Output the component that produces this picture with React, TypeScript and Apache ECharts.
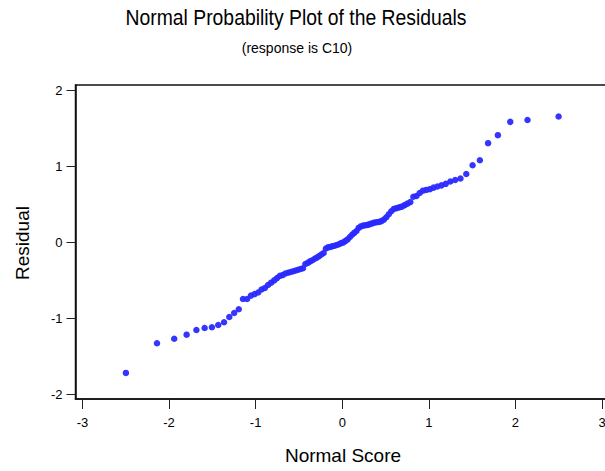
import React, { useEffect, useRef } from "react";
import * as echarts from "echarts";

const titleText = "Normal Probability Plot of the Residuals";
const subtitleText = "(response is C10)";
const xName = "Normal Score";
const yName = "Residual";

const xTicks = [-3, -2, -1, 0, 1, 2, 3];
const yTicks = [-2, -1, 0, 1, 2];

const normalScores = [
  -2.498, -2.139, -1.94, -1.797, -1.684, -1.589, -1.505, -1.432, -1.365, -1.304,
  -1.248, -1.195, -1.146, -1.099, -1.054, -1.012, -0.971, -0.932, -0.894, -0.857,
  -0.821, -0.786, -0.753, -0.72, -0.688, -0.657, -0.626, -0.596, -0.566, -0.537,
  -0.509, -0.481, -0.453, -0.426, -0.398, -0.372, -0.345, -0.319, -0.293, -0.267,
  -0.241, -0.215, -0.189, -0.164, -0.138, -0.113, -0.088, -0.063, -0.038, -0.013,
  0.013, 0.038, 0.063, 0.088, 0.113, 0.138, 0.164, 0.189, 0.215, 0.241,
  0.267, 0.293, 0.319, 0.345, 0.372, 0.398, 0.426, 0.453, 0.481, 0.509,
  0.537, 0.566, 0.596, 0.626, 0.657, 0.688, 0.72, 0.753, 0.786, 0.821,
  0.857, 0.894, 0.932, 0.971, 1.012, 1.054, 1.099, 1.146, 1.195, 1.248,
  1.304, 1.365, 1.432, 1.505, 1.589, 1.684, 1.797, 1.94, 2.139, 2.498,
];

const residuals = [
  -1.717, -1.327, -1.267, -1.214, -1.152, -1.126, -1.117, -1.087, -1.051, -0.982,
  -0.929, -0.88, -0.745, -0.745, -0.7, -0.68, -0.66, -0.62, -0.6, -0.56,
  -0.53, -0.5, -0.47, -0.44, -0.43, -0.41, -0.4, -0.39, -0.38, -0.37,
  -0.36, -0.35, -0.34, -0.285, -0.27, -0.25, -0.235, -0.215, -0.2, -0.18,
  -0.16, -0.14, -0.08, -0.065, -0.06, -0.05, -0.045, -0.035, -0.025, -0.01,
  0.0, 0.02, 0.04, 0.07, 0.1, 0.125, 0.15, 0.19, 0.21, 0.22,
  0.225, 0.23, 0.24, 0.25, 0.26, 0.265, 0.27, 0.28, 0.3, 0.33,
  0.37, 0.41, 0.44, 0.45, 0.46, 0.47, 0.49, 0.51, 0.53, 0.6,
  0.61, 0.65, 0.68, 0.69, 0.7, 0.72, 0.735, 0.75, 0.77, 0.8,
  0.82, 0.84, 0.9, 1.015, 1.08, 1.305, 1.41, 1.585, 1.61, 1.656,
];

const FONT = "'Liberation Sans', Arial, Helvetica, sans-serif";

export default function App() {
  const ref = useRef<HTMLDivElement>(null);

  useEffect(() => {
    if (!ref.current) return;
    const chart = echarts.init(ref.current, null, { renderer: "svg" });
    const points = normalScores.map((x, i) => [x, residuals[i]]);
    chart.setOption({
      animation: false,
      backgroundColor: "#ffffff",
      grid: {
        left: 75.5,
        right: 6,
        top: 85,
        bottom: 72,
        show: true,
        borderColor: "#111111",
        borderWidth: 1.5,
        backgroundColor: "transparent",
      },
      xAxis: {
        type: "value",
        min: -3.08,
        max: 3.08,
        axisLine: { show: true, onZero: false, lineStyle: { color: "#111111", width: 1.5 } },
        splitLine: { show: false },
        axisTick: {
          show: true,
          length: 10,
          customValues: xTicks,
          lineStyle: { color: "#222222", width: 1 },
        },
        axisLabel: {
          customValues: xTicks,
          margin: 17,
          color: "#000000",
          fontSize: 13,
          fontFamily: FONT,
        },
      },
      yAxis: {
        type: "value",
        min: -2.06,
        max: 2.07,
        axisLine: { show: true, onZero: false, lineStyle: { color: "#111111", width: 1.5 } },
        splitLine: { show: false },
        axisTick: {
          show: true,
          length: 9,
          customValues: yTicks,
          lineStyle: { color: "#222222", width: 1 },
        },
        axisLabel: {
          customValues: yTicks,
          margin: 13,
          color: "#000000",
          fontSize: 13,
          fontFamily: FONT,
        },
      },
      graphic: [
        {
          type: "text",
          x: 296,
          y: 17,
          scaleX: 0.88,
          style: {
            text: titleText,
            fontSize: 22,
            fontFamily: FONT,
            fill: "#000000",
            textAlign: "center",
            textVerticalAlign: "middle",
          },
        },
        {
          type: "text",
          x: 297,
          y: 48,
          style: {
            text: subtitleText,
            fontSize: 14,
            fontFamily: FONT,
            fill: "#000000",
            textAlign: "center",
            textVerticalAlign: "middle",
          },
        },
        {
          type: "text",
          x: 343,
          y: 455,
          style: {
            text: xName,
            fontSize: 19,
            fontFamily: FONT,
            fill: "#000000",
            textAlign: "center",
            textVerticalAlign: "middle",
          },
        },
        {
          type: "text",
          x: 22,
          y: 243,
          rotation: Math.PI / 2,
          style: {
            text: yName,
            fontSize: 19,
            fontFamily: FONT,
            fill: "#000000",
            textAlign: "center",
            textVerticalAlign: "middle",
          },
        },
      ],
      series: [
        {
          type: "scatter",
          data: points,
          symbol: "circle",
          symbolSize: 6.5,
          itemStyle: { color: "#2a2aff", opacity: 0.95 },
        },
      ],
    });
    return () => chart.dispose();
  }, []);

  return (
    <div
      style={{
        position: "fixed",
        left: 0,
        top: 0,
        width: 605,
        height: 471,
        overflow: "hidden",
        background: "#ffffff",
      }}
    >
      <div ref={ref} style={{ width: 615, height: 471 }} />
    </div>
  );
}
